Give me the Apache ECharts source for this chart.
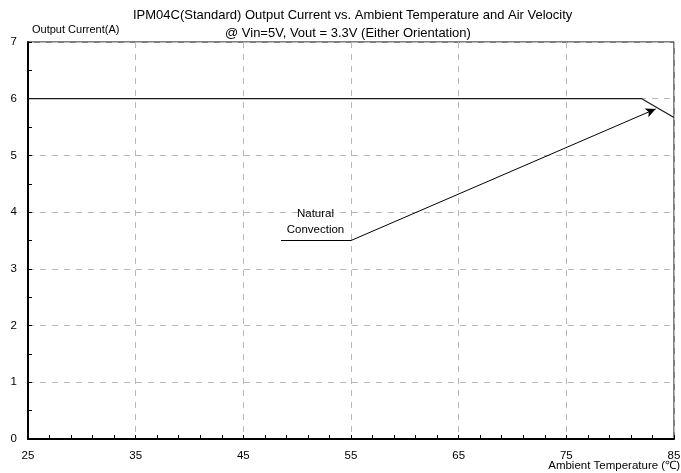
<!DOCTYPE html>
<html>
<head>
<meta charset="utf-8">
<script src="https://cdn.jsdelivr.net/npm/echarts@6/dist/echarts.min.js"></script>
<style>html,body{margin:0;padding:0;background:#fff}#c{width:681px;height:473px}</style>
</head>
<body>
<div id="c"></div>
<script>
// Data
const titleLines = ["IPM04C(Standard) Output Current vs. Ambient Temperature and Air Velocity", "@ Vin=5V, Vout = 3.3V (Either Orientation)"];
const xName = "Ambient Temperature (℃)";
const yName = "Output Current(A)";
const xTicks = [25, 35, 45, 55, 65, 75, 85];
const yTicks = [0, 1, 2, 3, 4, 5, 6, 7];
const naturalTemp = [25, 82, 85];
const naturalCurrent = [6, 6, 5.67];
const labelLeaderTemp = [48.5, 55];
const labelLeaderCurrent = [3.5, 3.5];
const arrowTemp = [55, 83.3];
const arrowCurrent = [3.5, 5.82];
const annotationText = "Natural\nConvection";
const annotationPos = [51.7, 3.83];

const X0 = xTicks[0];
const sx = v => v - X0;
const font = "Liberation Sans, Arial, sans-serif";

const chart = echarts.init(document.getElementById('c'), null, {renderer: 'canvas'});
chart.setOption({
  animation: false,
  backgroundColor: '#fff',
  textStyle: {fontFamily: font},
  title: [
    {text: titleLines[0], left: 133, top: 9, padding: 0, textStyle: {fontSize: 13, fontWeight: 'normal', color: '#000', fontFamily: font}},
    {text: titleLines[1], left: 225, top: 27, padding: 0, textStyle: {fontSize: 13, fontWeight: 'normal', color: '#000', fontFamily: font}},
    {text: xName, right: 1, top: 460, padding: 0, textStyle: {fontSize: 11.5, fontWeight: 'normal', color: '#000', fontFamily: font}}
  ],
  grid: {left: 28, right: 7, top: 42, bottom: 34, show: true, borderColor: '#000', borderWidth: 1, backgroundColor: 'transparent', containLabel: false, outerBoundsMode: 'none'},
  xAxis: {
    type: 'value', min: 0, max: sx(xTicks[xTicks.length - 1]), interval: 10,
    axisLine: {show: true, lineStyle: {color: '#000', width: 2}},
    axisTick: {show: true, inside: true, length: 4, lineStyle: {color: '#000'}},
    minorTick: {show: true, splitNumber: 5, length: 4, lineStyle: {color: '#000'}},
    axisLabel: {color: '#000', fontSize: 11.5, margin: 11, formatter: v => String(v + X0), fontFamily: font},
    splitLine: {show: true, lineStyle: {color: '#b8b8b8', type: [6, 6], width: 1}}
  },
  yAxis: {
    type: 'value', min: 0, max: 7, interval: 1,
    name: yName, nameLocation: 'end', nameGap: 12,
    nameTextStyle: {fontSize: 11, color: '#000', align: 'left', verticalAlign: 'middle', padding: [0, 0, 0, 4], fontFamily: font},
    axisLine: {show: true, lineStyle: {color: '#000', width: 2}},
    axisTick: {show: true, inside: true, length: 4, lineStyle: {color: '#000'}},
    minorTick: {show: true, splitNumber: 2, length: 4, lineStyle: {color: '#000'}},
    axisLabel: {color: '#000', fontSize: 11.5, margin: 11, fontFamily: font},
    splitLine: {show: true, lineStyle: {color: '#b8b8b8', type: [6, 6], width: 1}}
  },
  series: [
    {
      type: 'line', name: 'Natural Convection', showSymbol: false, symbol: 'none',
      data: naturalTemp.map((t, i) => [sx(t), naturalCurrent[i]]),
      lineStyle: {color: '#1a1a1a', width: 1.2}, z: 5
    },
    {
      type: 'line', showSymbol: false, symbol: 'none', silent: true,
      data: labelLeaderTemp.map((t, i) => [sx(t), labelLeaderCurrent[i]]),
      lineStyle: {color: '#000', width: 1},
      markLine: {
        silent: true, symbol: ['none', 'arrow'], symbolSize: [7, 10],
        label: {show: false},
        lineStyle: {color: '#000', width: 1, type: 'solid'},
        data: [[{coord: [sx(arrowTemp[0]), arrowCurrent[0]]}, {coord: [sx(arrowTemp[1]), arrowCurrent[1]]}]]
      },
      markPoint: {
        silent: true, symbol: 'circle', symbolSize: 1, itemStyle: {color: 'transparent'},
        label: {show: true, position: 'inside', formatter: annotationText, color: '#000', fontSize: 11.5, lineHeight: 16, align: 'center', fontFamily: font},
        data: [{coord: [sx(annotationPos[0]), annotationPos[1]]}]
      }
    }
  ]
});
</script>
</body>
</html>
